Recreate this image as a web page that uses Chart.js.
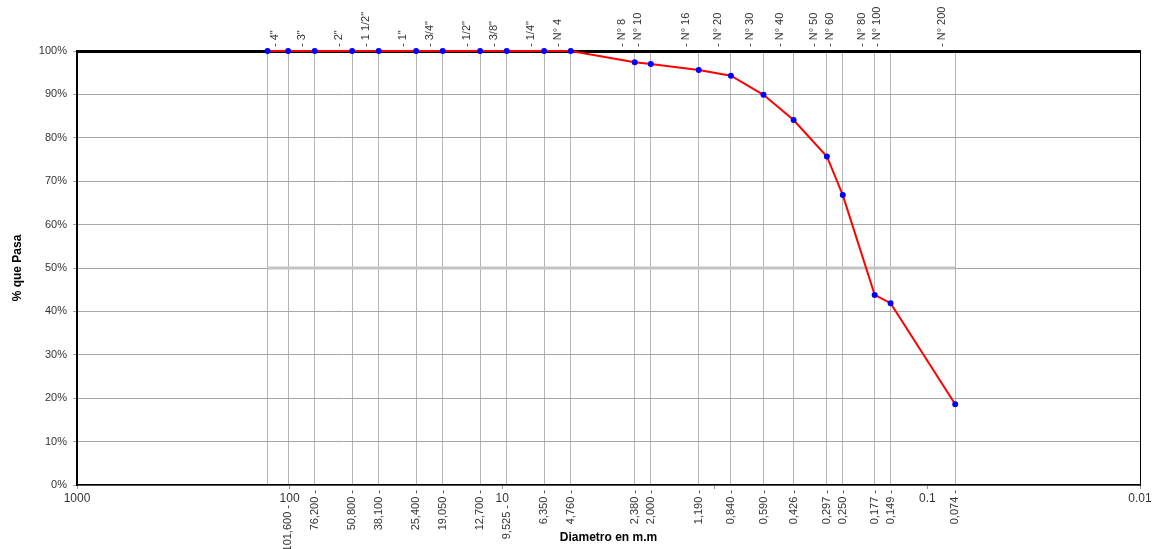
<!DOCTYPE html>
<html>
<head>
<meta charset="utf-8">
<script src="https://cdn.jsdelivr.net/npm/chart.js@4.4.1/dist/chart.umd.min.js"></script>
<style>
  body { margin: 0; background: #fff; }
  #wrap { width: 1161px; height: 549px; }
</style>
</head>
<body>
<div id="wrap"><canvas id="granChart" width="1161" height="549"></canvas></div>
<script>
// sieve openings (mm) and % passing
const sizes = [127, 101.6, 76.2, 50.8, 38.1, 25.4, 19.05, 12.7, 9.525, 6.35, 4.76,
    2.38, 2.0, 1.19, 0.84, 0.59, 0.426, 0.297, 0.25, 0.177, 0.149, 0.074];
const passing = [100, 100, 100, 100, 100, 100, 100, 100, 100, 100, 100,
    97.4, 97.0, 95.6, 94.3, 89.9, 84.1, 75.7, 66.8, 43.8, 41.9, 18.6];
const sieveNames = ['', '4"', '3"', '2"', '1 1/2"', '1"', '3/4"', '1/2"', '3/8"', '1/4"', 'N° 4',
    'N° 8', 'N° 10', 'N° 16', 'N° 20', 'N° 30', 'N° 40', 'N° 50', 'N° 60', 'N° 80', 'N° 100', 'N° 200'];
const sizeLabels = ['', '101,600', '76,200', '50,800', '38,100', '25,400', '19,050', '12,700', '9,525', '6,350', '4,760',
    '2,380', '2,000', '1,190', '0,840', '0,590', '0,426', '0,297', '0,250', '0,177', '0,149', '0,074'];
const decades = [1000, 100, 10, 1, 0.1, 0.01];
const decadeLabels = ['1000', '100', '10', '', '0.1', '0.01'];
const refLine = 50;

const FONT = '"Liberation Sans", Arial, sans-serif';

// rotated mm values under the x axis, pushed down where they meet a decade label
const sizeLabelPlugin = {
    id: "sizeLabels",
    afterDraw(chart) {
        const { ctx, chartArea } = chart;
        const x = chart.scales.x;
        const decadePx = decades.filter((d, i) => decadeLabels[i]).map((d) => x.getPixelForValue(d));
        ctx.save();
        ctx.font = "11px " + FONT;
        ctx.fillStyle = "#333";
        ctx.textAlign = "right";
        ctx.textBaseline = "middle";
        sizes.forEach((v, i) => {
            if (!sizeLabels[i]) return;
            const px = x.getPixelForValue(v);
            const hit = decadePx.some((d) => Math.abs(d - px) < 16);
            ctx.save();
            ctx.translate(px, chartArea.bottom + (hit ? 20 : 5));
            ctx.rotate(-Math.PI / 2);
            ctx.fillText(sizeLabels[i] + " -", 0, 0);
            ctx.restore();
        });
        ctx.restore();
    },
};

new Chart(document.getElementById("granChart"), {
    type: "line",
    data: {
        datasets: [
            {
                data: sizes.map((s, i) => ({ x: s, y: passing[i] })),
                borderColor: "#ff0000",
                borderWidth: 2,
                pointBackgroundColor: "#0000ff",
                pointBorderColor: "#0000ff",
                pointRadius: 2,
                tension: 0,
                clip: false,
            },
            {
                data: [
                    { x: sizes[0], y: refLine },
                    { x: sizes[sizes.length - 1], y: refLine },
                ],
                borderColor: "#c4c4c4",
                borderWidth: 3,
                pointRadius: 0,
            },
        ],
    },
    options: {
        responsive: false,
        animation: false,
        layout: { padding: { right: 21 } },
        plugins: { legend: { display: false }, tooltip: { enabled: false } },
        scales: {
            x: {
                type: "logarithmic",
                position: "bottom",
                min: 0.01,
                max: 1000,
                reverse: true,
                afterBuildTicks: (s) => { s.ticks = decades.map((v) => ({ value: v })); },
                afterFit: (s) => { s.height = 64; },
                ticks: {
                    autoSkip: false,
                    maxRotation: 0,
                    padding: 2,
                    color: "#333",
                    font: { family: FONT, size: 12 },
                    callback: (v, i) => decadeLabels[i],
                },
                grid: { drawOnChartArea: false, tickLength: 4, color: "#999" },
                border: { color: "#000", width: 1.5 },
                title: {
                    display: true,
                    text: "Diametro en m.m",
                    color: "#000",
                    font: { family: FONT, size: 12, weight: "bold" },
                    padding: { bottom: 4 },
                },
            },
            xTop: {
                type: "logarithmic",
                position: "top",
                min: 0.01,
                max: 1000,
                reverse: true,
                afterBuildTicks: (s) => { s.ticks = sizes.map((v) => ({ value: v })); },
                afterFit: (s) => { s.height = 51; },
                ticks: {
                    autoSkip: false,
                    minRotation: 90,
                    maxRotation: 90,
                    padding: 4,
                    color: "#333",
                    font: { family: FONT, size: 11 },
                    callback: (v, i) => (sieveNames[i] ? "- " + sieveNames[i] : ""),
                },
                grid: { color: "#b4b4b4", drawTicks: false },
                border: { color: "#000", width: 3 },
            },
            y: {
                min: 0,
                max: 100,
                afterFit: (s) => { s.width = 77; },
                ticks: {
                    stepSize: 10,
                    padding: 6,
                    color: "#333",
                    font: { family: FONT, size: 11 },
                    callback: (v) => v + "%",
                },
                grid: { color: "#a6a6a6", tickLength: 4 },
                border: { color: "#000", width: 2 },
                title: {
                    display: true,
                    text: "% que Pasa",
                    color: "#000",
                    font: { family: FONT, size: 12, weight: "bold" },
                    padding: { top: 10, bottom: 0 },
                },
            },
            yRight: {
                position: "right",
                min: 0,
                max: 100,
                afterFit: (s) => { s.width = 0; },
                ticks: { display: false },
                grid: { drawOnChartArea: false, drawTicks: false },
                border: { color: "#000", width: 1 },
            },
        },
    },
    plugins: [sizeLabelPlugin],
});
</script>
</body>
</html>
